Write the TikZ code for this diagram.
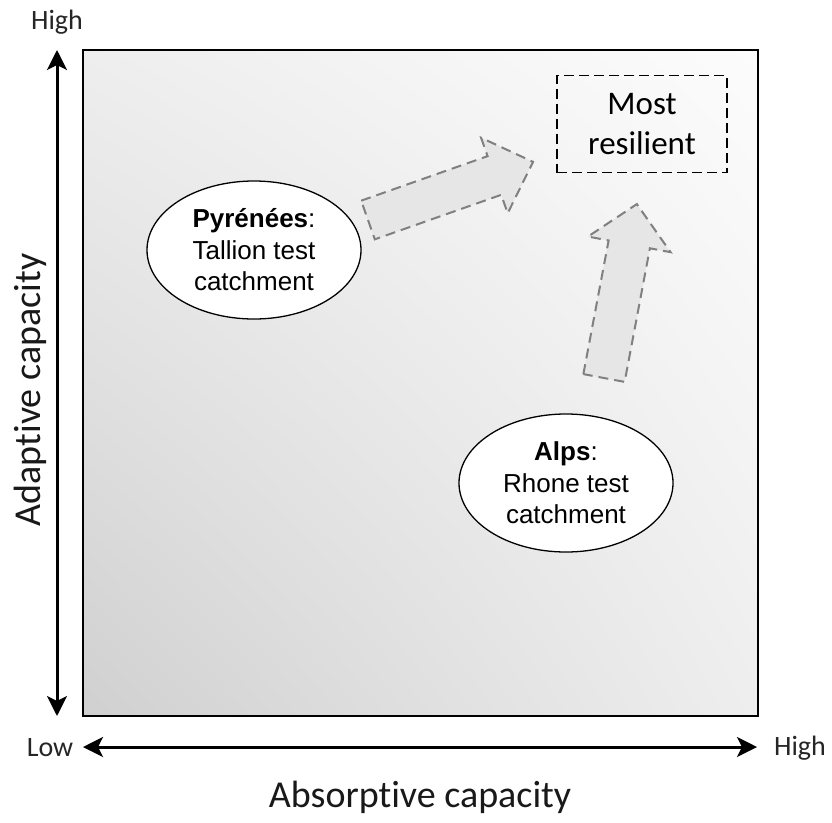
\documentclass[tikz,border=0pt]{standalone}
\usepackage{fontspec}
\setmainfont[Ligatures=NoCommon]{Carlito}
\newfontfamily\arialf{Liberation Sans}
\usetikzlibrary{arrows.meta,shapes.geometric,shadings}
\definecolor{gLL}{HTML}{D0D0D0}
\definecolor{gUR}{HTML}{FCFCFC}
\definecolor{gMID}{HTML}{EEEEEE}
\definecolor{arrfill}{HTML}{E6E6E6}
\definecolor{arrline}{HTML}{808080}
\tikzset{
  axisarrow/.style={line width=3pt,{Stealth[length=20pt,width=20pt,inset=5pt]}-{Stealth[length=20pt,width=20pt,inset=5pt]}},
  smalllbl/.style={font=\fontsize{28}{32}\selectfont,text=black!85},
  biglbl/.style={font=\fontsize{38}{44}\selectfont,text=black!90},
  region/.style={ellipse,draw=black,line width=1.3pt,fill=white,minimum width=214pt,minimum height=138pt,inner sep=0pt,align=center,font=\arialf\fontsize{26}{31.5}\selectfont},
  goalbox/.style={draw=black,line width=1.4pt,dash pattern=on 10pt off 5pt,minimum width=170pt,minimum height=97pt,align=center,font=\fontsize{33}{40}\selectfont,inner sep=0pt},
  blockarrow/.style={fill=arrfill,draw=arrline,line width=2pt,dash pattern=on 10pt off 6pt,line join=miter}
}
\begin{document}
\begin{tikzpicture}[x=1pt,y=-1pt]
\useasboundingbox (0,0) rectangle (832,822);
\fill[white] (0,0) rectangle (832,822);
% background square with gradient
\shade[lower left=gLL, upper right=gUR, upper left=gMID, lower right=gMID] (83,50) rectangle (758,716);
\draw[line width=2.2pt] (83,50) rectangle (758,716);
% axes
\coordinate (ytop) at (57,50);
\coordinate (ybot) at (57,716);
\coordinate (xl) at (83,747);
\coordinate (xr) at (757,747);
\draw[axisarrow] (ybot) -- (ytop);
\draw[axisarrow] (xl) -- (xr);
\node[smalllbl] (hightop) at (57,22) {High};
\node[smalllbl] (low) at (50,748) {Low};
\node[smalllbl] (highright) at (800,748) {High};
\node[biglbl] (xlabel) at (420,797) {Absorptive capacity};
\node[biglbl,rotate=90] (ylabel) at (30,390) {Adaptive capacity};
% block arrows
\begin{scope}[shift={(368,220)},rotate=19.4]
\draw[blockarrow] (0,-20.5) -- (134,-20.5) -- (134,-40) -- (175,0) -- (134,40) -- (134,20.5) -- (0,20.5) -- cycle;
\end{scope}
\begin{scope}[shift={(604,378)},rotate=79.3]
\draw[blockarrow] (0,-21) -- (136,-21) -- (136,-42) -- (177,0) -- (136,42) -- (136,21) -- (0,21) -- cycle;
\end{scope}
% nodes
\node[goalbox] (most) at (642,124) {Most\\resilient};
\node[region] (pyr) at (254,250) {\textbf{Pyrénées}:\\Tallion test\\catchment};
\node[region] (alps) at (566,483) {\textbf{Alps}:\\Rhone test\\catchment};
\end{tikzpicture}
\end{document}
